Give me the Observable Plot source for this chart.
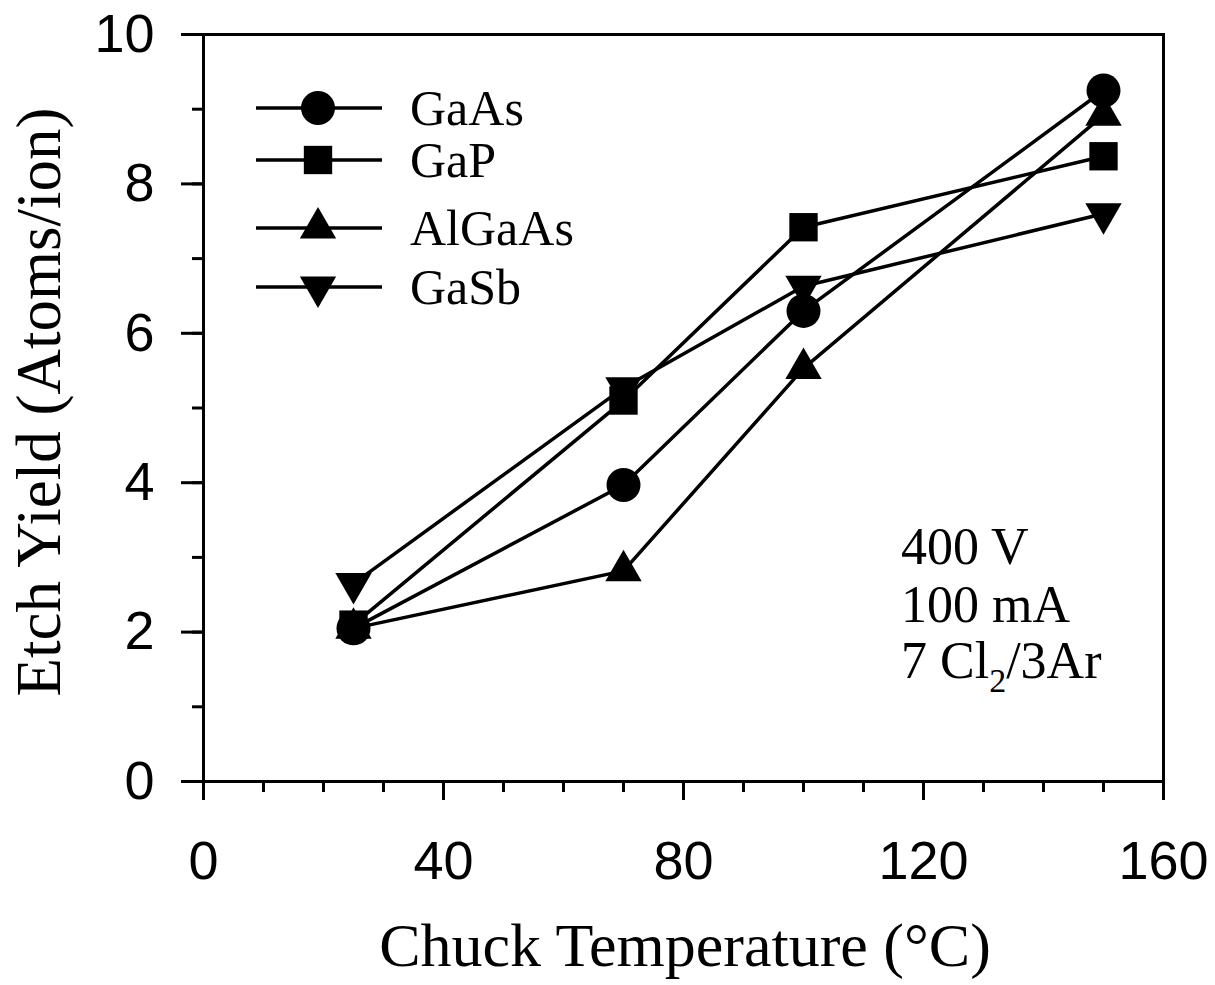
<!DOCTYPE html>
<html>
<head>
<meta charset="utf-8">
<script src="https://cdn.jsdelivr.net/npm/d3@7"></script>
<script src="https://cdn.jsdelivr.net/npm/@observablehq/plot@0.6"></script>
<style>
  html, body { margin: 0; padding: 0; background: #fff; }
  #chart { position: relative; width: 1215px; height: 985px; }
</style>
</head>
<body>
<div id="chart"></div>
<script>
// ---- data ----
const temperatures = [25, 70, 100, 150];
const gaAs   = [2.05, 3.97, 6.3, 9.25];
const gaP    = [2.1, 5.1, 7.42, 8.37];
const alGaAs = [2.05, 2.82, 5.53, 8.92];
const gaSb   = [2.65, 5.27, 6.63, 7.6];
const seriesNames = ["GaAs", "GaP", "AlGaAs", "GaSb"];
const xTicks = [0, 40, 80, 120, 160];
const yTicks = [0, 2, 4, 6, 8, 10];
const annotationLines = ["400 V", "100 mA", "7 Cl|2|/3Ar"];

// inverted triangle symbol
const triangleDown = {
  draw(context, size) {
    const sqrt3 = Math.sqrt(3);
    const y = -Math.sqrt(size / (sqrt3 * 3));
    context.moveTo(0, -y * 2);
    context.lineTo(-sqrt3 * y, y);
    context.lineTo(sqrt3 * y, y);
    context.closePath();
  }
};

const seriesValues = [gaAs, gaP, alGaAs, gaSb];
const symbols = ["circle", "square", "triangle", triangleDown];
const radii = [17, 16, 13.5, 13.5];

const rows = [];
seriesNames.forEach((name, i) => {
  temperatures.forEach((t, j) => rows.push({series: name, t, v: seriesValues[i][j]}));
});

const sans = "Liberation Sans, Arial, sans-serif";
const serif = "Liberation Serif, Times New Roman, serif";

const marks = [
  Plot.frame({stroke: "#000", strokeWidth: 3}),
  // minor ticks
  Plot.axisX({ticks: d3.range(0, 161, 10), tickSize: 11, tickFormat: () => "", strokeWidth: 3, label: null}),
  Plot.axisY({ticks: d3.range(0, 11, 1), tickSize: 11, tickFormat: () => "", strokeWidth: 3, label: null}),
  // major ticks
  Plot.axisX({ticks: xTicks, tickSize: 19, tickPadding: 40, fontSize: 54, fontFamily: sans, strokeWidth: 3, label: null, tickFormat: d => d}),
  Plot.axisY({ticks: yTicks, tickSize: 22, tickPadding: 27, fontSize: 54, fontFamily: sans, strokeWidth: 3, label: null, tickFormat: d => d}),
];
seriesNames.forEach((name, i) => {
  const data = rows.filter(r => r.series === name);
  marks.push(Plot.line(data, {x: "t", y: "v", stroke: "#000", strokeWidth: 3.5}));
});
seriesNames.forEach((name, i) => {
  const data = rows.filter(r => r.series === name);
  marks.push(Plot.dot(data, {x: "t", y: "v", symbol: () => symbols[i], r: radii[i], fill: "#000", stroke: "none"}));
});

const chart = Plot.plot({
  width: 1215,
  height: 985,
  marginTop: 34,
  marginBottom: 204,
  marginLeft: 203,
  marginRight: 52,
  style: {background: "#fff", color: "#000", overflow: "visible"},
  x: {domain: [0, 160]},
  y: {domain: [0, 10]},
  symbol: {type: "identity"},
  marks
});

document.getElementById("chart").appendChild(chart);

const svg = d3.select(chart);

// axis titles
svg.append("text")
  .attr("x", 685).attr("y", 966)
  .attr("text-anchor", "middle")
  .attr("font-family", serif).attr("font-size", 62)
  .attr("fill", "#000")
  .text("Chuck Temperature (°C)");

svg.append("text")
  .attr("transform", "translate(60,402) rotate(-90)")
  .attr("text-anchor", "middle")
  .attr("font-family", serif).attr("font-size", 63)
  .attr("fill", "#000")
  .text("Etch Yield (Atoms/ion)");

// legend
const legendY = [108, 160, 228, 287];
const legend = svg.append("g");
seriesNames.forEach((name, i) => {
  const y = legendY[i];
  legend.append("line")
    .attr("x1", 256).attr("x2", 382).attr("y1", y).attr("y2", y)
    .attr("stroke", "#000").attr("stroke-width", 3.5);
  const sym = typeof symbols[i] === "string" ? {circle: d3.symbolCircle, square: d3.symbolSquare, triangle: d3.symbolTriangle}[symbols[i]] : symbols[i];
  legend.append("path")
    .attr("transform", `translate(318,${y})`)
    .attr("d", d3.symbol(sym, Math.PI * radii[i] * radii[i])())
    .attr("fill", "#000");
  legend.append("text")
    .attr("x", 410).attr("y", y + 17)
    .attr("text-anchor", "start")
    .attr("font-family", serif).attr("font-size", 50)
    .attr("fill", "#000")
    .text(name);
});

// annotation
const annY = [564, 622, 678];
annotationLines.forEach((line, i) => {
  const t = svg.append("text")
    .attr("x", 901).attr("y", annY[i])
    .attr("text-anchor", "start")
    .attr("font-family", serif).attr("font-size", 52)
    .attr("fill", "#000");
  const parts = line.split("|");
  parts.forEach((p, k) => {
    const ts = t.append("tspan").text(p);
    if (k === 1) ts.attr("font-size", 34).attr("dy", 14);
    if (k === 2) ts.attr("dy", -14);
  });
});
</script>
</body>
</html>
